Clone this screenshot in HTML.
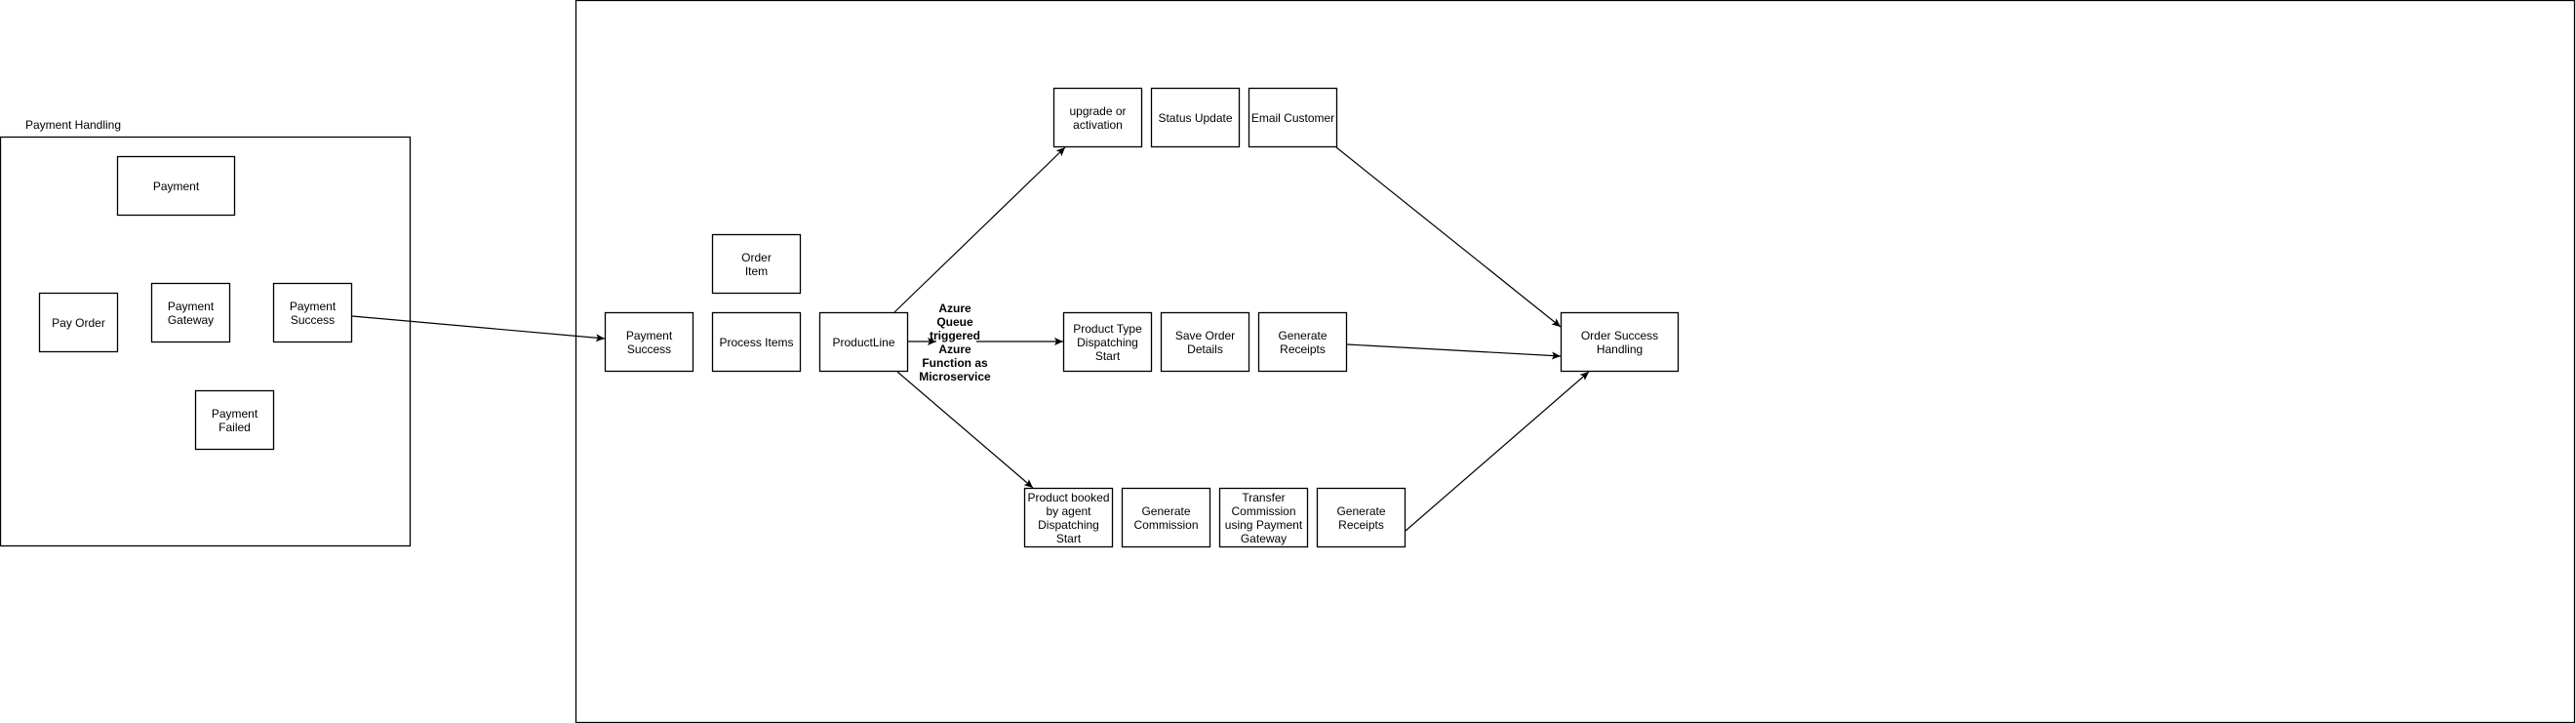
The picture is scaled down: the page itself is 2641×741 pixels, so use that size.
<!DOCTYPE html>
<html><head><meta charset="utf-8"><style>
html,body{margin:0;padding:0;background:#fff;}
svg{display:block;}
text{font-family:"Liberation Sans",Arial,sans-serif;font-size:12px;fill:#000;}
</style></head><body>
<svg width="2641" height="741" viewBox="0 0 2641 741" xmlns="http://www.w3.org/2000/svg">
<defs><marker id="a" markerWidth="10" markerHeight="10" refX="9" refY="5" orient="auto" markerUnits="userSpaceOnUse"><path d="M0,1 L9,5 L0,9 L2,5 Z" fill="#000"/></marker></defs>
<g fill="#fff" stroke="#000" stroke-width="1.3">
<rect x="0.5" y="140.5" width="420" height="419"/>
<rect x="590.5" y="0.5" width="2049" height="740"/>
<rect x="120.5" y="160.5" width="120" height="60"/>
<rect x="40.5" y="300.5" width="80" height="60"/>
<rect x="155.5" y="290.5" width="80" height="60"/>
<rect x="280.5" y="290.5" width="80" height="60"/>
<rect x="200.5" y="400.5" width="80" height="60"/>
<rect x="620.5" y="320.5" width="90" height="60"/>
<rect x="730.5" y="320.5" width="90" height="60"/>
<rect x="730.5" y="240.5" width="90" height="60"/>
<rect x="840.5" y="320.5" width="90" height="60"/>
<rect x="1090.5" y="320.5" width="90" height="60"/>
<rect x="1190.5" y="320.5" width="90" height="60"/>
<rect x="1290.5" y="320.5" width="90" height="60"/>
<rect x="1080.5" y="90.5" width="90" height="60"/>
<rect x="1180.5" y="90.5" width="90" height="60"/>
<rect x="1280.5" y="90.5" width="90" height="60"/>
<rect x="1600.5" y="320.5" width="120" height="60"/>
<rect x="1050.5" y="500.5" width="90" height="60"/>
<rect x="1150.5" y="500.5" width="90" height="60"/>
<rect x="1250.5" y="500.5" width="90" height="60"/>
<rect x="1350.5" y="500.5" width="90" height="60"/>
</g>
<g stroke="#000" stroke-width="1.2" fill="none" marker-end="url(#a)">
<line x1="361" y1="324" x2="620" y2="347"/>
<line x1="931" y1="350" x2="960" y2="350"/>
<line x1="1001" y1="350" x2="1090" y2="350"/>
<line x1="917" y1="320" x2="1092" y2="151"/>
<line x1="920" y1="381" x2="1059" y2="500"/>
<line x1="1370" y1="151" x2="1600" y2="335"/>
<line x1="1381" y1="353" x2="1600" y2="365"/>
<line x1="1441" y1="544" x2="1629" y2="381"/>
</g>
<g text-anchor="middle">
<text x="75" y="132">Payment Handling</text>
<text x="180.5" y="195">Payment</text>
<text x="80.5" y="335">Pay Order</text>
<text x="195.5" y="318">Payment</text><text x="195.5" y="332">Gateway</text>
<text x="320.5" y="318">Payment</text><text x="320.5" y="332">Success</text>
<text x="240.5" y="428">Payment</text><text x="240.5" y="442">Failed</text>
<text x="665.5" y="348">Payment</text><text x="665.5" y="362">Success</text>
<text x="775.5" y="355">Process Items</text>
<text x="775.5" y="268">Order</text><text x="775.5" y="282">Item</text>
<text x="885.5" y="355">ProductLine</text>
<g font-weight="bold"><text x="979" y="320" font-weight="bold">Azure</text><text x="979" y="334" font-weight="bold">Queue</text><text x="979" y="348" font-weight="bold">triggered</text><text x="979" y="362" font-weight="bold">Azure</text><text x="979" y="376" font-weight="bold">Function as</text><text x="979" y="390" font-weight="bold">Microservice</text></g>
<text x="1135.5" y="341">Product Type</text><text x="1135.5" y="355">Dispatching</text><text x="1135.5" y="369">Start</text>
<text x="1235.5" y="348">Save Order</text><text x="1235.5" y="362">Details</text>
<text x="1335.5" y="348">Generate</text><text x="1335.5" y="362">Receipts</text>
<text x="1125.5" y="118">upgrade or</text><text x="1125.5" y="132">activation</text>
<text x="1225.5" y="125">Status Update</text>
<text x="1325.5" y="125">Email Customer</text>
<text x="1660.5" y="348">Order Success</text><text x="1660.5" y="362">Handling</text>
<text x="1095.5" y="514">Product booked</text><text x="1095.5" y="528">by agent</text><text x="1095.5" y="542">Dispatching</text><text x="1095.5" y="556">Start</text>
<text x="1195.5" y="528">Generate</text><text x="1195.5" y="542">Commission</text>
<text x="1295.5" y="514">Transfer</text><text x="1295.5" y="528">Commission</text><text x="1295.5" y="542">using Payment</text><text x="1295.5" y="556">Gateway</text>
<text x="1395.5" y="528">Generate</text><text x="1395.5" y="542">Receipts</text>
</g>
</svg>
</body></html>
